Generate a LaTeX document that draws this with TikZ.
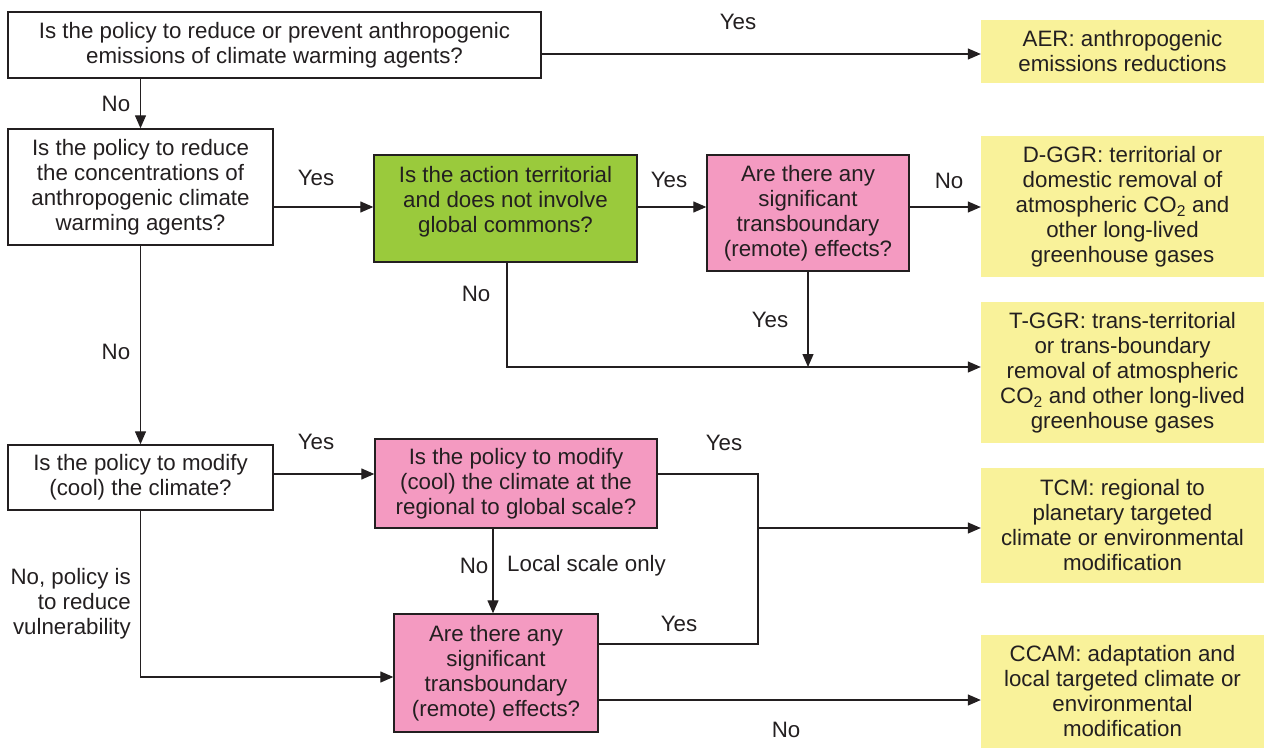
\documentclass[tikz,border=0pt]{standalone}
\usepackage{fontspec}
\setmainfont{Liberation Sans}
\usetikzlibrary{arrows.meta}
\definecolor{ink}{HTML}{231F20}
\definecolor{gfill}{HTML}{9ACA3C}
\definecolor{pfill}{HTML}{F49AC1}
\definecolor{yfill}{HTML}{F9F29A}
\tikzset{
  base/.style={align=center, inner sep=0pt, text=ink, font=\fontsize{22.3}{25}\selectfont},
  qbox/.style={base, draw=ink, line width=1.4pt, fill=white},
  gbox/.style={base, draw=ink, line width=1.4pt, fill=gfill},
  pbox/.style={base, draw=ink, line width=1.4pt, fill=pfill},
  ybox/.style={base, fill=yfill},
  lab/.style={base, inner sep=0pt},
  conn/.style={draw=ink, line width=1.3pt},
  arr/.style={conn, -{Triangle[length=13pt,width=11pt]}}
}
\begin{document}
\begin{tikzpicture}[x=1pt,y=-1pt]
\useasboundingbox (0,0) rectangle (1264,749);
% boxes
\node[qbox, minimum width=533, minimum height=66] (q1) at (274.5,45) {Is the policy to reduce or prevent anthropogenic\\emissions of climate warming agents?};
\node[ybox, minimum width=283, minimum height=63] (aer) at (1122.5,51.5) {AER: anthropogenic\\emissions reductions};
\node[qbox, minimum width=265, minimum height=116] (q2) at (140.5,187) {Is the policy to reduce\\the concentrations of\\anthropogenic climate\\warming agents?};
\node[gbox, minimum width=263, minimum height=107, text depth=19pt] (g) at (505.5,208.5) {Is the action territorial\\and does not involve\\global commons?};
\node[pbox, minimum width=202, minimum height=116] (p1) at (808,213) {Are there any\\significant\\transboundary\\(remote) effects?};
\node[ybox, minimum width=283, minimum height=141] (dggr) at (1122.5,206.5) {D-GGR: territorial or\\domestic removal of\\atmospheric CO\textsubscript{2} and\\other long-lived\\greenhouse gases};
\node[ybox, minimum width=283, minimum height=141] (tggr) at (1122.5,372.5) {T-GGR: trans-territorial\\or trans-boundary\\removal of atmospheric\\CO\textsubscript{2} and other long-lived\\greenhouse gases};
\node[qbox, minimum width=265, minimum height=65] (q3) at (140.5,477.5) {Is the policy to modify\\(cool) the climate?};
\node[pbox, minimum width=282, minimum height=89] (p2) at (516,483.5) {Is the policy to modify\\(cool) the climate at the\\regional to global scale?};
\node[ybox, minimum width=283, minimum height=115] (tcm) at (1122.5,525.5) {TCM: regional to\\planetary targeted\\climate or environmental\\modification};
\node[pbox, minimum width=204, minimum height=118] (p3) at (496,673) {Are there any\\significant\\transboundary\\(remote) effects?};
\node[ybox, minimum width=283, minimum height=113] (ccam) at (1122.5,691.5) {CCAM: adaptation and\\local targeted climate or\\environmental\\modification};
% connectors
\draw[arr] (q1.east |- 0,54) -- (aer.west |- 0,54);
\draw[arr] (q2.north |- q1.south) -- (q2.north);
\draw[arr] (q2.east |- 0,207) -- (g.west |- 0,207);
\draw[arr] (g.east |- 0,207) -- (p1.west |- 0,207);
\draw[arr] (p1.east |- 0,207) -- (dggr.west |- 0,207);
\draw[arr] (g.south -| 507,0) |- (tggr.west |- 0,367);
\draw[arr] (p1.south) -- (p1.south |- 0,367);
\draw[arr] (q2.south) -- (q3.north);
\draw[arr] (q3.east |- 0,474) -- (p2.west |- 0,474);
\coordinate (j) at (758,528);
\draw[conn] (p2.east |- 0,474) -| (j) |- (p3.east |- 0,644);
\draw[arr] (j) -- (tcm.west |- j);
\draw[arr] (p2.south -| 493,0) -- (p3.north -| 493,0);
\draw[arr] (q3.south) |- (p3.west |- 0,677);
\draw[arr] (p3.east |- 0,700) -- (ccam.west |- 0,700);
% labels
\node[lab] (l1) at (738,22) {Yes};
\node[lab] (l2) at (116,104) {No};
\node[lab] (l3) at (316,178) {Yes};
\node[lab] (l4) at (669,180) {Yes};
\node[lab] (l5) at (949,181) {No};
\node[lab] (l6) at (476,294) {No};
\node[lab] (l7) at (770,320) {Yes};
\node[lab] (l8) at (116,352) {No};
\node[lab] (l9) at (316,442) {Yes};
\node[lab] (l10) at (724,443) {Yes};
\node[lab] (l11) at (474,566) {No};
\node[lab, anchor=west] (l12) at (507,566) {Local scale only};
\node[lab] (l13) at (679,624) {Yes};
\node[lab, align=right, anchor=east] (l14) at (131,604) {No, policy is\\to reduce\\vulnerability};
\node[lab] (l15) at (786,730) {No};
\end{tikzpicture}
\end{document}
